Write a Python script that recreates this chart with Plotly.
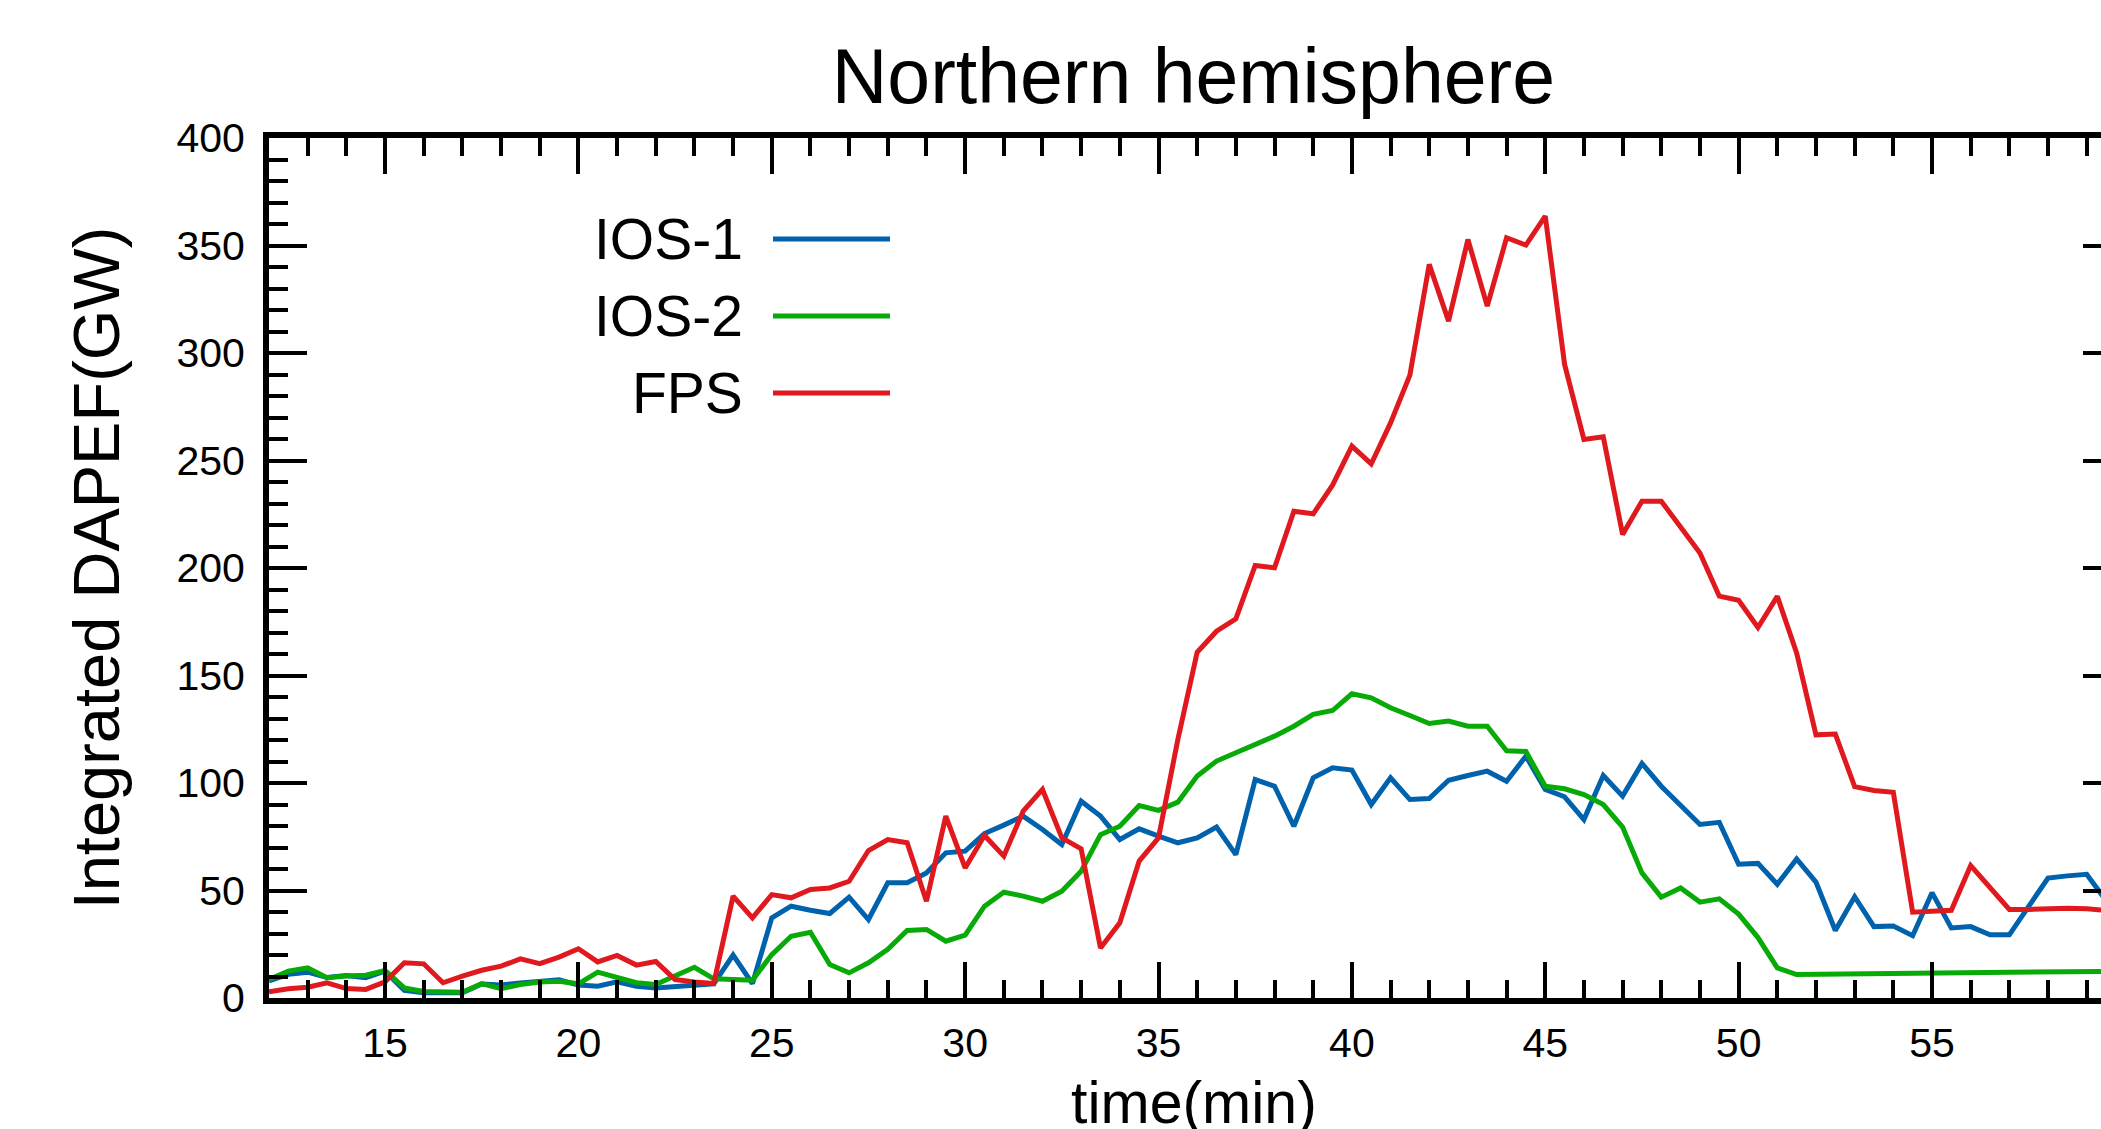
import plotly.graph_objects as go

# time axis (min), sampled every half minute
time = [12 + 0.5 * i for i in range(96)]

ios1 = [8, 11, 12, 9.5, 10.5, 9.5, 12.5, 3.5, 2.5, 2.5,
        2.5, 6.5, 6, 7, 7.5, 8.5, 6, 5.5, 7.5, 5.5,
        4.7, 5.5, 6, 6.6, 20, 6.7, 37.3, 42.7, 40.8, 39.3,
        46.9, 36.5, 53.6, 53.6, 58.2, 67.5, 68.3, 76.5, 80.4, 84.6,
        78.4, 71.4, 91.5, 84.6, 73.7, 78.7, 75.3, 72.2, 74.5, 79.5,
        66.7, 101.6, 98.5, 79.9, 102.4, 107.1, 106.0, 90.0, 102.4, 92.3,
        92.8, 101.3, 103.5, 105.5, 100.8, 112.5, 97.0, 93.6, 83.0, 103.5,
        93.9, 109.1, 98.5, 89.2, 80.7, 81.7, 62.2, 62.6, 52.9, 64.7,
        53.9, 31.4, 47.1, 33.2, 33.5, 29.0, 49.0, 32.6, 33.2, 29.4,
        29.4, 42.6, 55.8, 56.8, 57.5, 45.3]

ios2 = [8.6, 12.5, 14.0, 9.4, 10.2, 10.6, 12.8, 4.7, 3.0, 2.7,
        2.7, 6.7, 4.3, 6.3, 7.4, 7.8, 6.6, 12.0, 9.4, 7.1,
        6.3, 10.2, 14.3, 8.9, 8.6, 8.3, 20.2, 28.7, 30.6, 15.6,
        11.7, 16.4, 22.6, 31.4, 31.9, 26.4, 29.2, 42.7, 49.2, 47.4,
        45.0, 49.7, 59.0, 76.0, 79.9, 89.5, 87.3, 91.1, 103.2, 110.2,
        114.1, 117.9, 121.8, 126.4, 131.9, 133.7, 141.5, 139.6, 135.0, 131.4,
        127.7, 128.8, 126.4, 126.4, 115.0, 114.7, 98.5, 97.3, 94.6, 90.0,
        79.5, 58.2, 46.9, 51.2, 44.6, 46.1, 39.0, 28.1, 14.0, 10.9,
        11.0, 11.1, 11.2, 11.3, 11.4, 11.5, 11.7, 11.8, 12.0, 12.1,
        12.2, 12.3, 12.5, 12.7, 12.6, 12.4]

fps = [2.9, 4.3, 5.0, 7.1, 4.4, 4.0, 7.5, 16.4, 15.9, 7.1,
       10.2, 12.9, 14.8, 18.2, 16.0, 19.0, 22.9, 16.8, 19.8, 15.3,
       17.0, 8.6, 7.5, 6.7, 47.4, 37.3, 48.1, 46.6, 50.5, 51.2,
       54.3, 68.6, 73.7, 72.2, 45.0, 84.6, 60.5, 75.6, 66.0, 86.9,
       97.0, 74.5, 69.4, 23.3, 35.0, 63.7, 74.5, 120.2, 160.8, 170.6,
       176.3, 201.2, 200.1, 226.4, 225.2, 238.5, 256.7, 248.4, 267.5, 289.7,
       341.2, 314.8, 352.8, 321.8, 353.6, 350.2, 363.7, 294.7, 259.8, 261.0,
       215.6, 231.1, 231.1, 219.5, 207.0, 186.9, 185.0, 172.3, 186.8, 160.5,
       122.4, 122.8, 98.3, 96.5, 95.7, 39.9, 40.3, 40.8, 61.6, 51.7,
       41.2, 41.2, 41.7, 41.7, 41.5, 40.8]

series_names = ["IOS-1", "IOS-2", "FPS"]
series_values = [ios1, ios2, fps]
series_colors = ["#0062ac", "#08aa08", "#e0191f"]

W, H = 2101, 1129
L, R, T, B = 269, 0, 138, 131
PW, PH = W - L - R, H - T - B
FONT = "Liberation Sans, Arial, Helvetica, sans-serif"

fig = go.Figure()
for name, vals, col in zip(series_names, series_values, series_colors):
    fig.add_trace(go.Scatter(x=time, y=vals, mode="lines", name=name,
                             line=dict(color=col, width=5), showlegend=False))

# dummy trace to register right-hand tick axis
fig.add_trace(go.Scatter(x=[time[0]], y=[None], yaxis="y2", mode="lines",
                         showlegend=False, hoverinfo="skip"))

fig.update_layout(
    width=W, height=H,
    margin=dict(l=L, r=R, t=T, b=B, pad=0, autoexpand=False),
    paper_bgcolor="white", plot_bgcolor="white",
    font=dict(family=FONT, color="black"),
    title=dict(text="Northern hemisphere", font=dict(size=77, family=FONT, color="black"),
               x=0.568, xref="container", xanchor="center",
               y=1 - 76 / H, yref="container", yanchor="middle"),
    xaxis=dict(range=[12, 59.37], showgrid=False, zeroline=False, automargin=False,
               showline=True, linecolor="black", linewidth=6, mirror="ticks",
               ticks="inside", ticklen=36, tickwidth=4, tickcolor="black",
               tick0=0, dtick=5, tickfont=dict(size=41, family=FONT),
               ticklabelstandoff=4,
               minor=dict(ticks="inside", dtick=1, tick0=0, ticklen=18,
                          tickwidth=4, tickcolor="black", showgrid=False)),
    yaxis=dict(range=[0, 400], showgrid=False, zeroline=False, automargin=False,
               showline=True, linecolor="black", linewidth=6, mirror=False,
               ticks="inside", ticklen=38, tickwidth=4, tickcolor="black",
               tick0=0, dtick=50, tickfont=dict(size=41, family=FONT),
               ticklabelstandoff=10,
               minor=dict(ticks="inside", dtick=10, tick0=0, ticklen=19,
                          tickwidth=4, tickcolor="black", showgrid=False),
               title=dict(text="Integrated DAPEF(GW)", font=dict(size=65, family=FONT),
                          standoff=38)),
    yaxis2=dict(range=[0, 400], overlaying="y", side="right", showgrid=False,
                zeroline=False, showline=False, ticks="inside", ticklen=18,
                tickwidth=4, tickcolor="black", tick0=0, dtick=50,
                showticklabels=False, automargin=False),
)

# x-axis title, centred on the full (partly cropped) plot width
fig.add_annotation(text="time(min)", xref="paper", yref="paper",
                   x=(1194 - L) / PW, y=(H - B - 1103) / PH,
                   xanchor="center", yanchor="middle", showarrow=False,
                   font=dict(size=59, family=FONT, color="black"))

# legend: labels to the left of line samples
leg_y = [239, 316, 393]
for name, col, py in zip(series_names, series_colors, leg_y):
    yp = (H - B - py) / PH
    fig.add_annotation(text=name, xref="paper", yref="paper",
                       x=(745 - L) / PW, y=yp, xanchor="right", yanchor="middle",
                       showarrow=False, font=dict(size=57, family=FONT, color="black"))
    fig.add_shape(type="line", xref="paper", yref="paper",
                  x0=(773 - L) / PW, x1=(890 - L) / PW, y0=yp, y1=yp,
                  line=dict(color=col, width=5))

fig.write_html("out.html", config={"displayModeBar": False},
               post_script="document.body.style.margin='0';document.body.style.overflow='hidden';")
